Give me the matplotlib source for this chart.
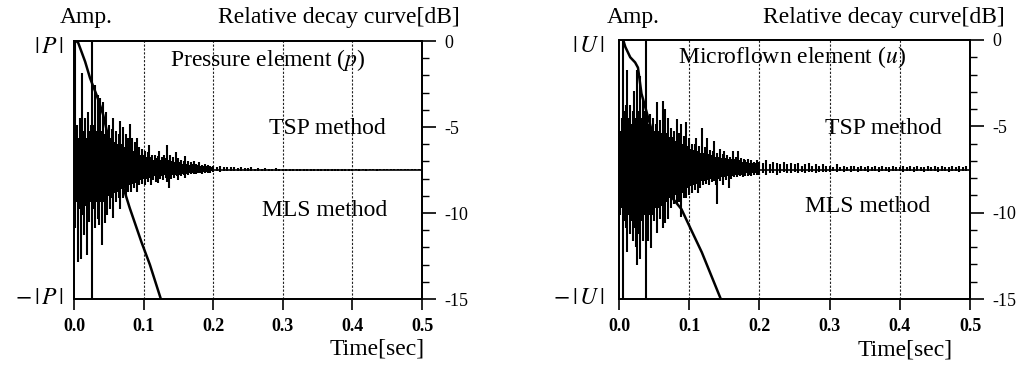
import numpy as np
import matplotlib
matplotlib.use("Agg")
import matplotlib.pyplot as plt
from matplotlib.ticker import MultipleLocator

plt.rcParams['font.family'] = ['Liberation Serif', 'DejaVu Serif']
plt.rcParams['mathtext.fontset'] = 'stix'
plt.rcParams['axes.unicode_minus'] = False

# ---------------- data ----------------
# sample times (s): dense early part, coarse late part
t_early = np.round(np.arange(0.0, 0.2, 0.002), 4)
t_late = np.round(np.arange(0.2, 0.5, 0.005), 4)

# Pressure element, TSP (upper trace, normalised amplitude)
p_tsp_early = [0.30, 1.00, 0.35, 0.25, 0.40, 0.30, 0.75, 0.30, 0.40, 0.25,
               0.45, 0.30, 0.35, 1.00, 0.35, 0.66, 0.30, 0.58, 0.35, 0.56,
               0.30, 0.53, 0.28, 0.45, 0.30, 0.35, 0.25, 0.32, 0.40, 0.22,
               0.30, 0.20, 0.28, 0.38, 0.20, 0.33, 0.18, 0.28, 0.20, 0.25,
               0.36, 0.18, 0.25, 0.15, 0.22, 0.25, 0.14, 0.18, 0.12, 0.16,
               0.12, 0.15, 0.10, 0.14, 0.19, 0.10, 0.12, 0.08, 0.12, 0.09,
               0.11, 0.15, 0.08, 0.10, 0.07, 0.12, 0.09, 0.19, 0.08, 0.12,
               0.07, 0.10, 0.06, 0.14, 0.07, 0.09, 0.06, 0.08, 0.05, 0.07,
               0.11, 0.05, 0.07, 0.04, 0.06, 0.05, 0.07, 0.04, 0.05, 0.04,
               0.06, 0.03, 0.04, 0.03, 0.05, 0.03, 0.04, 0.03, 0.03, 0.02]
p_tsp_late = [0.03, 0.02, 0.03, 0.02, 0.02, 0.025, 0.02, 0.015, 0.02, 0.015,
              0.015, 0.02, 0.01, 0.015, 0.01, 0.015, 0.01, 0.01, 0.015, 0.01,
              0.01, 0.008, 0.01, 0.008, 0.01, 0.008, 0.008, 0.01, 0.008, 0.008,
              0.008, 0.006, 0.008, 0.006, 0.008, 0.006, 0.006, 0.008, 0.006, 0.006,
              0.006, 0.005, 0.006, 0.005, 0.006, 0.005, 0.005, 0.006, 0.005, 0.005,
              0.005, 0.004, 0.005, 0.004, 0.005, 0.004, 0.004, 0.005, 0.004, 0.004]

# Pressure element, MLS (lower trace)
p_mls_early = [-0.30, -0.45, -0.25, -0.71, -0.30, -0.69, -0.35, -0.50, -0.28, -0.66,
               -0.30, -0.40, -0.25, -1.00, -0.30, -0.45, -0.25, -0.38, -0.43, -0.25,
               -0.58, -0.25, -0.41, -0.22, -0.35, -0.20, -0.30, -0.22, -0.37, -0.18,
               -0.25, -0.17, -0.22, -0.30, -0.15, -0.22, -0.14, -0.20, -0.13, -0.17,
               -0.12, -0.17, -0.11, -0.14, -0.10, -0.17, -0.09, -0.12, -0.08, -0.11,
               -0.07, -0.12, -0.07, -0.09, -0.06, -0.12, -0.06, -0.08, -0.05, -0.09,
               -0.10, -0.05, -0.07, -0.05, -0.08, -0.04, -0.06, -0.09, -0.14, -0.05,
               -0.07, -0.04, -0.06, -0.04, -0.05, -0.08, -0.04, -0.05, -0.03, -0.04,
               -0.06, -0.03, -0.04, -0.02, -0.03, -0.02, -0.03, -0.02, -0.03, -0.02,
               -0.02, -0.02, -0.03, -0.015, -0.02, -0.015, -0.02, -0.015, -0.02, -0.01]
p_mls_late = [-0.012, -0.01, -0.012, -0.01, -0.01, -0.008, -0.01, -0.008, -0.008, -0.01,
              -0.008, -0.006, -0.008, -0.006, -0.008, -0.006, -0.006, -0.008, -0.006, -0.006,
              -0.005, -0.006, -0.005, -0.006, -0.005, -0.005, -0.006, -0.005, -0.005, -0.004,
              -0.005, -0.004, -0.005, -0.004, -0.004, -0.005, -0.004, -0.004, -0.004, -0.004,
              -0.004, -0.003, -0.004, -0.003, -0.004, -0.003, -0.003, -0.004, -0.003, -0.003,
              -0.003, -0.003, -0.003, -0.003, -0.003, -0.003, -0.003, -0.003, -0.003, -0.003]

# Microflown element, TSP (upper trace)
u_tsp_early = [0.20, 0.30, 0.40, 1.00, 0.45, 0.50, 0.77, 0.40, 0.50, 0.35,
               0.45, 0.61, 0.40, 0.77, 0.45, 0.72, 0.40, 0.55, 0.45, 1.00,
               0.40, 0.35, 0.43, 0.30, 0.40, 0.30, 0.35, 0.52, 0.30, 0.38,
               0.28, 0.53, 0.30, 0.47, 0.28, 0.40, 0.25, 0.32, 0.25, 0.30,
               0.22, 0.39, 0.22, 0.28, 0.35, 0.20, 0.26, 0.18, 0.37, 0.18,
               0.24, 0.16, 0.20, 0.15, 0.20, 0.24, 0.14, 0.18, 0.13, 0.32,
               0.13, 0.17, 0.12, 0.24, 0.12, 0.15, 0.11, 0.14, 0.22, 0.10,
               0.13, 0.10, 0.16, 0.09, 0.12, 0.14, 0.09, 0.11, 0.08, 0.10,
               0.08, 0.14, 0.08, 0.10, 0.07, 0.14, 0.07, 0.09, 0.06, 0.08,
               0.07, 0.06, 0.08, 0.05, 0.07, 0.05, 0.06, 0.05, 0.07, 0.05]
u_tsp_late = [0.06, 0.05, 0.07, 0.04, 0.06, 0.05, 0.04, 0.06, 0.04, 0.05,
              0.04, 0.05, 0.03, 0.04, 0.05, 0.03, 0.04, 0.03, 0.04, 0.03,
              0.03, 0.02, 0.04, 0.02, 0.03, 0.02, 0.03, 0.025, 0.02, 0.03,
              0.02, 0.03, 0.02, 0.025, 0.02, 0.03, 0.02, 0.02, 0.03, 0.02,
              0.02, 0.03, 0.02, 0.025, 0.02, 0.03, 0.02, 0.02, 0.03, 0.02,
              0.025, 0.02, 0.03, 0.02, 0.02, 0.03, 0.02, 0.025, 0.02, 0.03]

# Microflown element, MLS (lower trace)
u_mls_early = [-0.25, -0.35, -0.30, -1.00, -0.40, -0.45, -0.64, -0.35, -0.50, -0.40,
               -0.55, -0.45, -0.60, -0.74, -0.50, -0.69, -0.40, -0.55, -0.35, -1.00,
               -0.45, -0.55, -0.35, -0.61, -0.35, -0.40, -0.30, -0.49, -0.30, -0.38,
               -0.28, -0.45, -0.28, -0.41, -0.25, -0.38, -0.22, -0.30, -0.20, -0.27,
               -0.20, -0.27, -0.18, -0.25, -0.37, -0.18, -0.22, -0.15, -0.22, -0.14,
               -0.20, -0.13, -0.18, -0.12, -0.16, -0.11, -0.18, -0.10, -0.14, -0.09,
               -0.12, -0.09, -0.11, -0.08, -0.12, -0.07, -0.10, -0.07, -0.09, -0.12,
               -0.27, -0.07, -0.09, -0.06, -0.12, -0.06, -0.08, -0.05, -0.14, -0.05,
               -0.07, -0.05, -0.06, -0.04, -0.06, -0.04, -0.05, -0.04, -0.06, -0.04,
               -0.05, -0.03, -0.05, -0.04, -0.05, -0.03, -0.04, -0.03, -0.04, -0.03]
u_mls_late = [-0.04, -0.03, -0.04, -0.03, -0.03, -0.04, -0.03, -0.02, -0.03, -0.03,
              -0.02, -0.03, -0.02, -0.03, -0.02, -0.02, -0.03, -0.02, -0.02, -0.02,
              -0.02, -0.015, -0.02, -0.015, -0.02, -0.015, -0.02, -0.015, -0.02, -0.015,
              -0.015, -0.02, -0.015, -0.015, -0.02, -0.015, -0.015, -0.02, -0.015, -0.015,
              -0.015, -0.02, -0.015, -0.015, -0.02, -0.015, -0.015, -0.02, -0.015, -0.015,
              -0.015, -0.02, -0.015, -0.015, -0.02, -0.015, -0.015, -0.02, -0.015, -0.015]

# Relative decay curves (time s, level dB)
p_decay_t = [0.003, 0.006, 0.016, 0.023, 0.033, 0.042, 0.047, 0.058, 0.070, 0.080, 0.097, 0.109, 0.124]
p_decay_db = [0.0, -0.1, -1.2, -2.15, -3.2, -4.3, -5.2, -6.8, -8.4, -9.7, -11.7, -13.0, -14.9]
u_decay_t = [0.006, 0.009, 0.016, 0.023, 0.027, 0.032, 0.045, 0.060, 0.077, 0.089, 0.104, 0.118, 0.132, 0.144]
u_decay_db = [0.0, -0.4, -1.0, -1.3, -1.6, -3.1, -5.0, -7.3, -9.2, -9.8, -11.1, -12.3, -13.7, -14.9]

x_ticks = [0.0, 0.1, 0.2, 0.3, 0.4, 0.5]
x_ticklabels = ['0.0', '0.1', '0.2', '0.3', '0.4', '0.5']
db_ticks = [0, -5, -10, -15]
db_ticklabels = ['0', '-5', '-10', '-15']

# ---------------- figure ----------------
W, H = 1022, 368
fig = plt.figure(figsize=(W / 100, H / 100), dpi=100)

def fx(px):
    return px / W

def fy(py):
    return 1 - py / H

FS = 17

def panel(left_px, right_px, top_px, bot_px, tsp_e, tsp_l, mls_e, mls_l,
          dec_t, dec_db, sym, title, title_px, tsp_px, mls_px, time_px,
          amp_px, rel_px, symgap):
    ax = fig.add_axes([fx(left_px), fy(bot_px), (right_px - left_px) / W,
                       (bot_px - top_px) / H])
    ax.set_xlim(0, 0.5)
    ax.set_ylim(-1, 1)
    for t in x_ticks[1:-1]:
        ax.axvline(t, color='#222222', lw=0.8, ls=(0, (2, 1.5)), zorder=1)
    lw = 1.5
    ax.vlines(t_early, 0, tsp_e, color='k', lw=lw, zorder=2)
    ax.vlines(t_late, 0, tsp_l, color='k', lw=lw, zorder=2)
    ax.vlines(t_early, 0, mls_e, color='k', lw=lw, zorder=2)
    ax.vlines(t_late, 0, mls_l, color='k', lw=lw, zorder=2)
    ax.axhline(0, color='k', lw=1.2, zorder=3)
    ax.set_xticks(x_ticks)
    ax.set_xticklabels(x_ticklabels, fontsize=13, fontweight='bold')
    ax.tick_params(axis='x', direction='out', length=8, width=1.2, pad=6)
    ax.set_yticks([])
    for s in ax.spines.values():
        s.set_linewidth(1.3)
    ax2 = ax.twinx()
    ax2.set_ylim(-15, 0)
    ax2.plot(dec_t, dec_db, color='k', lw=1.8, zorder=4)
    ax2.set_yticks(db_ticks)
    ax2.set_yticklabels(db_ticklabels, fontsize=13)
    ax2.yaxis.set_minor_locator(MultipleLocator(1))
    ax2.tick_params(axis='y', which='major', direction='out', length=10, width=1.2, pad=6)
    ax2.tick_params(axis='y', which='minor', direction='out', length=5, width=1.0)
    for s in ax2.spines.values():
        s.set_linewidth(1.3)
    # amplitude labels
    ax.text(-symgap / (right_px - left_px), 0.975, r'$|\,%s\,|$' % sym,
            transform=ax.transAxes, ha='right', va='center', fontsize=17)
    ax.text(-symgap / (right_px - left_px), 0.0, r'$-\,|\,%s\,|$' % sym,
            transform=ax.transAxes, ha='right', va='center', fontsize=17)
    fig.text(fx(amp_px), fy(17), 'Amp.', ha='center', va='center', fontsize=FS)
    fig.text(fx(rel_px), fy(18), 'Relative decay curve[dB]', ha='left', va='center', fontsize=FS)
    fig.text(fx(title_px[0]), fy(title_px[1]), title, ha='left', va='center', fontsize=FS)
    fig.text(fx(tsp_px[0]), fy(tsp_px[1]), 'TSP method', ha='left', va='center', fontsize=FS)
    fig.text(fx(mls_px[0]), fy(mls_px[1]), 'MLS method', ha='left', va='center', fontsize=FS)
    fig.text(fx(time_px[0]), fy(time_px[1]), 'Time[sec]', ha='left', va='center', fontsize=FS)
    return ax, ax2

panel(74, 422, 41, 299, p_tsp_early, p_tsp_late, p_mls_early, p_mls_late,
      p_decay_t, p_decay_db, 'P', r'Pressure element ($p$)', (170, 60),
      (269, 128), (262, 210), (330, 349), 86, 218, 10)
panel(619, 970, 40, 299, u_tsp_early, u_tsp_late, u_mls_early, u_mls_late,
      u_decay_t, u_decay_db, 'U', r'Microflown element ($u$)', (678, 57),
      (825, 128), (805, 207), (858, 350), 633, 763, 14)

fig.savefig('out.png', dpi=100)
